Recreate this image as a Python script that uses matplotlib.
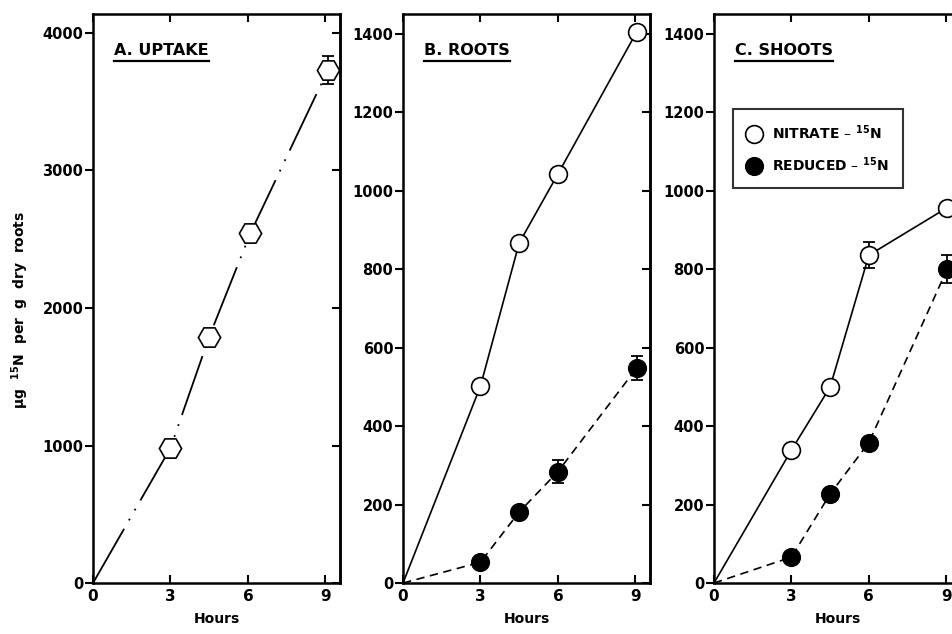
import matplotlib
matplotlib.use("Agg")
import matplotlib.pyplot as plt
from matplotlib.lines import Line2D

plt.rcParams['font.family'] = ['DejaVu Sans']
plt.rcParams['font.weight'] = 'bold'
plt.rcParams['lines.scale_dashes'] = False

# data
hours = [0, 3, 4.5, 6.1, 9.1]
uptake = [0, 982, 1790, 2545, 3731]
uptake_err = [0, 0, 0, 0, 105]

hours_b = [0, 3, 4.5, 6, 9.05]
roots_nitrate = [0, 502, 867, 1043, 1405]
roots_reduced = [0, 53, 181, 284, 548]
roots_reduced_err = [0, 0, 0, 30, 30]

hours_c = [0, 3, 4.5, 6, 9.03]
shoots_nitrate = [0, 339, 500, 836, 957]
shoots_nitrate_err = [0, 0, 0, 33, 0]
shoots_reduced = [0, 66, 227, 358, 800]
shoots_reduced_err = [0, 0, 0, 0, 36]

xticks = [0, 3, 6, 9]
yticks_a = [0, 1000, 2000, 3000, 4000]
yticks_bc = [0, 200, 400, 600, 800, 1000, 1200, 1400]

fig = plt.figure(figsize=(9.53, 6.34), dpi=100)

W = 0.2592
ax_a = fig.add_axes([0.0976, 0.0804, W, 0.8975])
ax_b = fig.add_axes([0.4229, 0.0804, W, 0.8975])
ax_c = fig.add_axes([0.7492, 0.0804, W, 0.8975])

def style(ax, yticks, ytop):
    ax.set_xlim(0, 9.57)
    ax.set_ylim(0, ytop)
    ax.set_xticks(xticks)
    ax.set_yticks(yticks)
    for s in ax.spines.values():
        s.set_linewidth(1.8)
    ax.tick_params(axis='x', direction='in', top=True, length=6, width=1.5,
                   labelsize=11, pad=4)
    ax.tick_params(axis='y', direction='out', length=6, width=1.5,
                   labelsize=10.5, pad=1)
    sec = ax.secondary_yaxis('right')
    sec.set_yticks(yticks)
    sec.tick_params(direction='in', length=6, width=1.5, labelright=False)
    sec.spines['right'].set_linewidth(1.8)
    ax.set_xlabel('Hours', fontsize=10, fontweight='bold', labelpad=6)
    for lab in ax.get_xticklabels() + ax.get_yticklabels():
        lab.set_fontweight('bold')

def errs(ax, x, y, e):
    xs = [a for a, b in zip(x, e) if b]
    ys = [a for a, b in zip(y, e) if b]
    es = [b for b in e if b]
    ax.errorbar(xs, ys, yerr=es, fmt='none', ecolor='black', elinewidth=1.3,
                capsize=4, capthick=1.3, zorder=2)

# A. uptake
ax_a.plot(hours, uptake, color='black', lw=1.3,
          linestyle=(0, (45, 7, 1.3, 7, 1.3, 7)), zorder=1)
errs(ax_a, hours, uptake, uptake_err)
ax_a.plot(hours[1:], uptake[1:], linestyle='none', marker='H', ms=16,
          mfc='white', mec='black', mew=1.2, zorder=3)
style(ax_a, yticks_a, 4138)

# B. roots
ax_b.plot(hours_b, roots_nitrate, color='black', lw=1.2, zorder=1)
ax_b.plot(hours_b, roots_reduced, color='black', lw=1.2,
          linestyle=(0, (6, 4)), zorder=1)
errs(ax_b, hours_b, roots_reduced, roots_reduced_err)
ax_b.plot(hours_b[1:], roots_nitrate[1:], linestyle='none', marker='o', ms=12.8,
          mfc='white', mec='black', mew=1.2, zorder=3)
ax_b.plot(hours_b[1:], roots_reduced[1:], linestyle='none', marker='o', ms=12.8,
          mfc='black', mec='black', zorder=3)
style(ax_b, yticks_bc, 1451)

# C. shoots
ax_c.plot(hours_c, shoots_nitrate, color='black', lw=1.2, zorder=1)
ax_c.plot(hours_c, shoots_reduced, color='black', lw=1.2,
          linestyle=(0, (6, 4)), zorder=1)
errs(ax_c, hours_c, shoots_nitrate, shoots_nitrate_err)
errs(ax_c, hours_c, shoots_reduced, shoots_reduced_err)
ax_c.plot(hours_c[1:], shoots_nitrate[1:], linestyle='none', marker='o', ms=12.8,
          mfc='white', mec='black', mew=1.2, zorder=3)
ax_c.plot(hours_c[1:], shoots_reduced[1:], linestyle='none', marker='o', ms=12.8,
          mfc='black', mec='black', zorder=3)
style(ax_c, yticks_bc, 1451)

handles = [
    Line2D([], [], linestyle='none', marker='o', ms=12.8, mfc='white',
           mec='black', mew=1.2),
    Line2D([], [], linestyle='none', marker='o', ms=12.8, mfc='black',
           mec='black'),
]
leg = ax_c.legend(handles, ['NITRATE – $^{\\mathbf{15}}$N', 'REDUCED – $^{\\mathbf{15}}$N'],
                  loc='upper left', bbox_to_anchor=(0.076, 0.833),
                  frameon=True, fancybox=False, edgecolor='black',
                  fontsize=10, handletextpad=0.8, borderpad=1.0,
                  labelspacing=1.0, handlelength=1.0, borderaxespad=0)
leg.get_frame().set_linewidth(1.5)
for t in leg.get_texts():
    t.set_fontweight('bold')

# panel titles, underlined
titles = []
for ax, txt in [(ax_a, 'A. UPTAKE'), (ax_b, 'B. ROOTS'), (ax_c, 'C. SHOOTS')]:
    titles.append(ax.text(0.085, 0.936, txt, transform=ax.transAxes,
                          fontsize=11.5, fontweight='bold', ha='left',
                          va='center'))

fig.text(0.021, 0.511, 'μg  $^{\\mathbf{15}}$N  per  g  dry  roots', rotation=90,
         ha='center', va='center', fontsize=10, fontweight='bold')

fig.canvas.draw()
inv = fig.transFigure.inverted()
for t in titles:
    bb = t.get_window_extent()
    (x0, y0), (x1, _) = inv.transform([(bb.x0, bb.y0 - 3), (bb.x1, bb.y0 - 3)])
    fig.add_artist(Line2D([x0, x1], [y0, y0], color='black', lw=1.6,
                          transform=fig.transFigure))

fig.savefig('out.png', dpi=100)
